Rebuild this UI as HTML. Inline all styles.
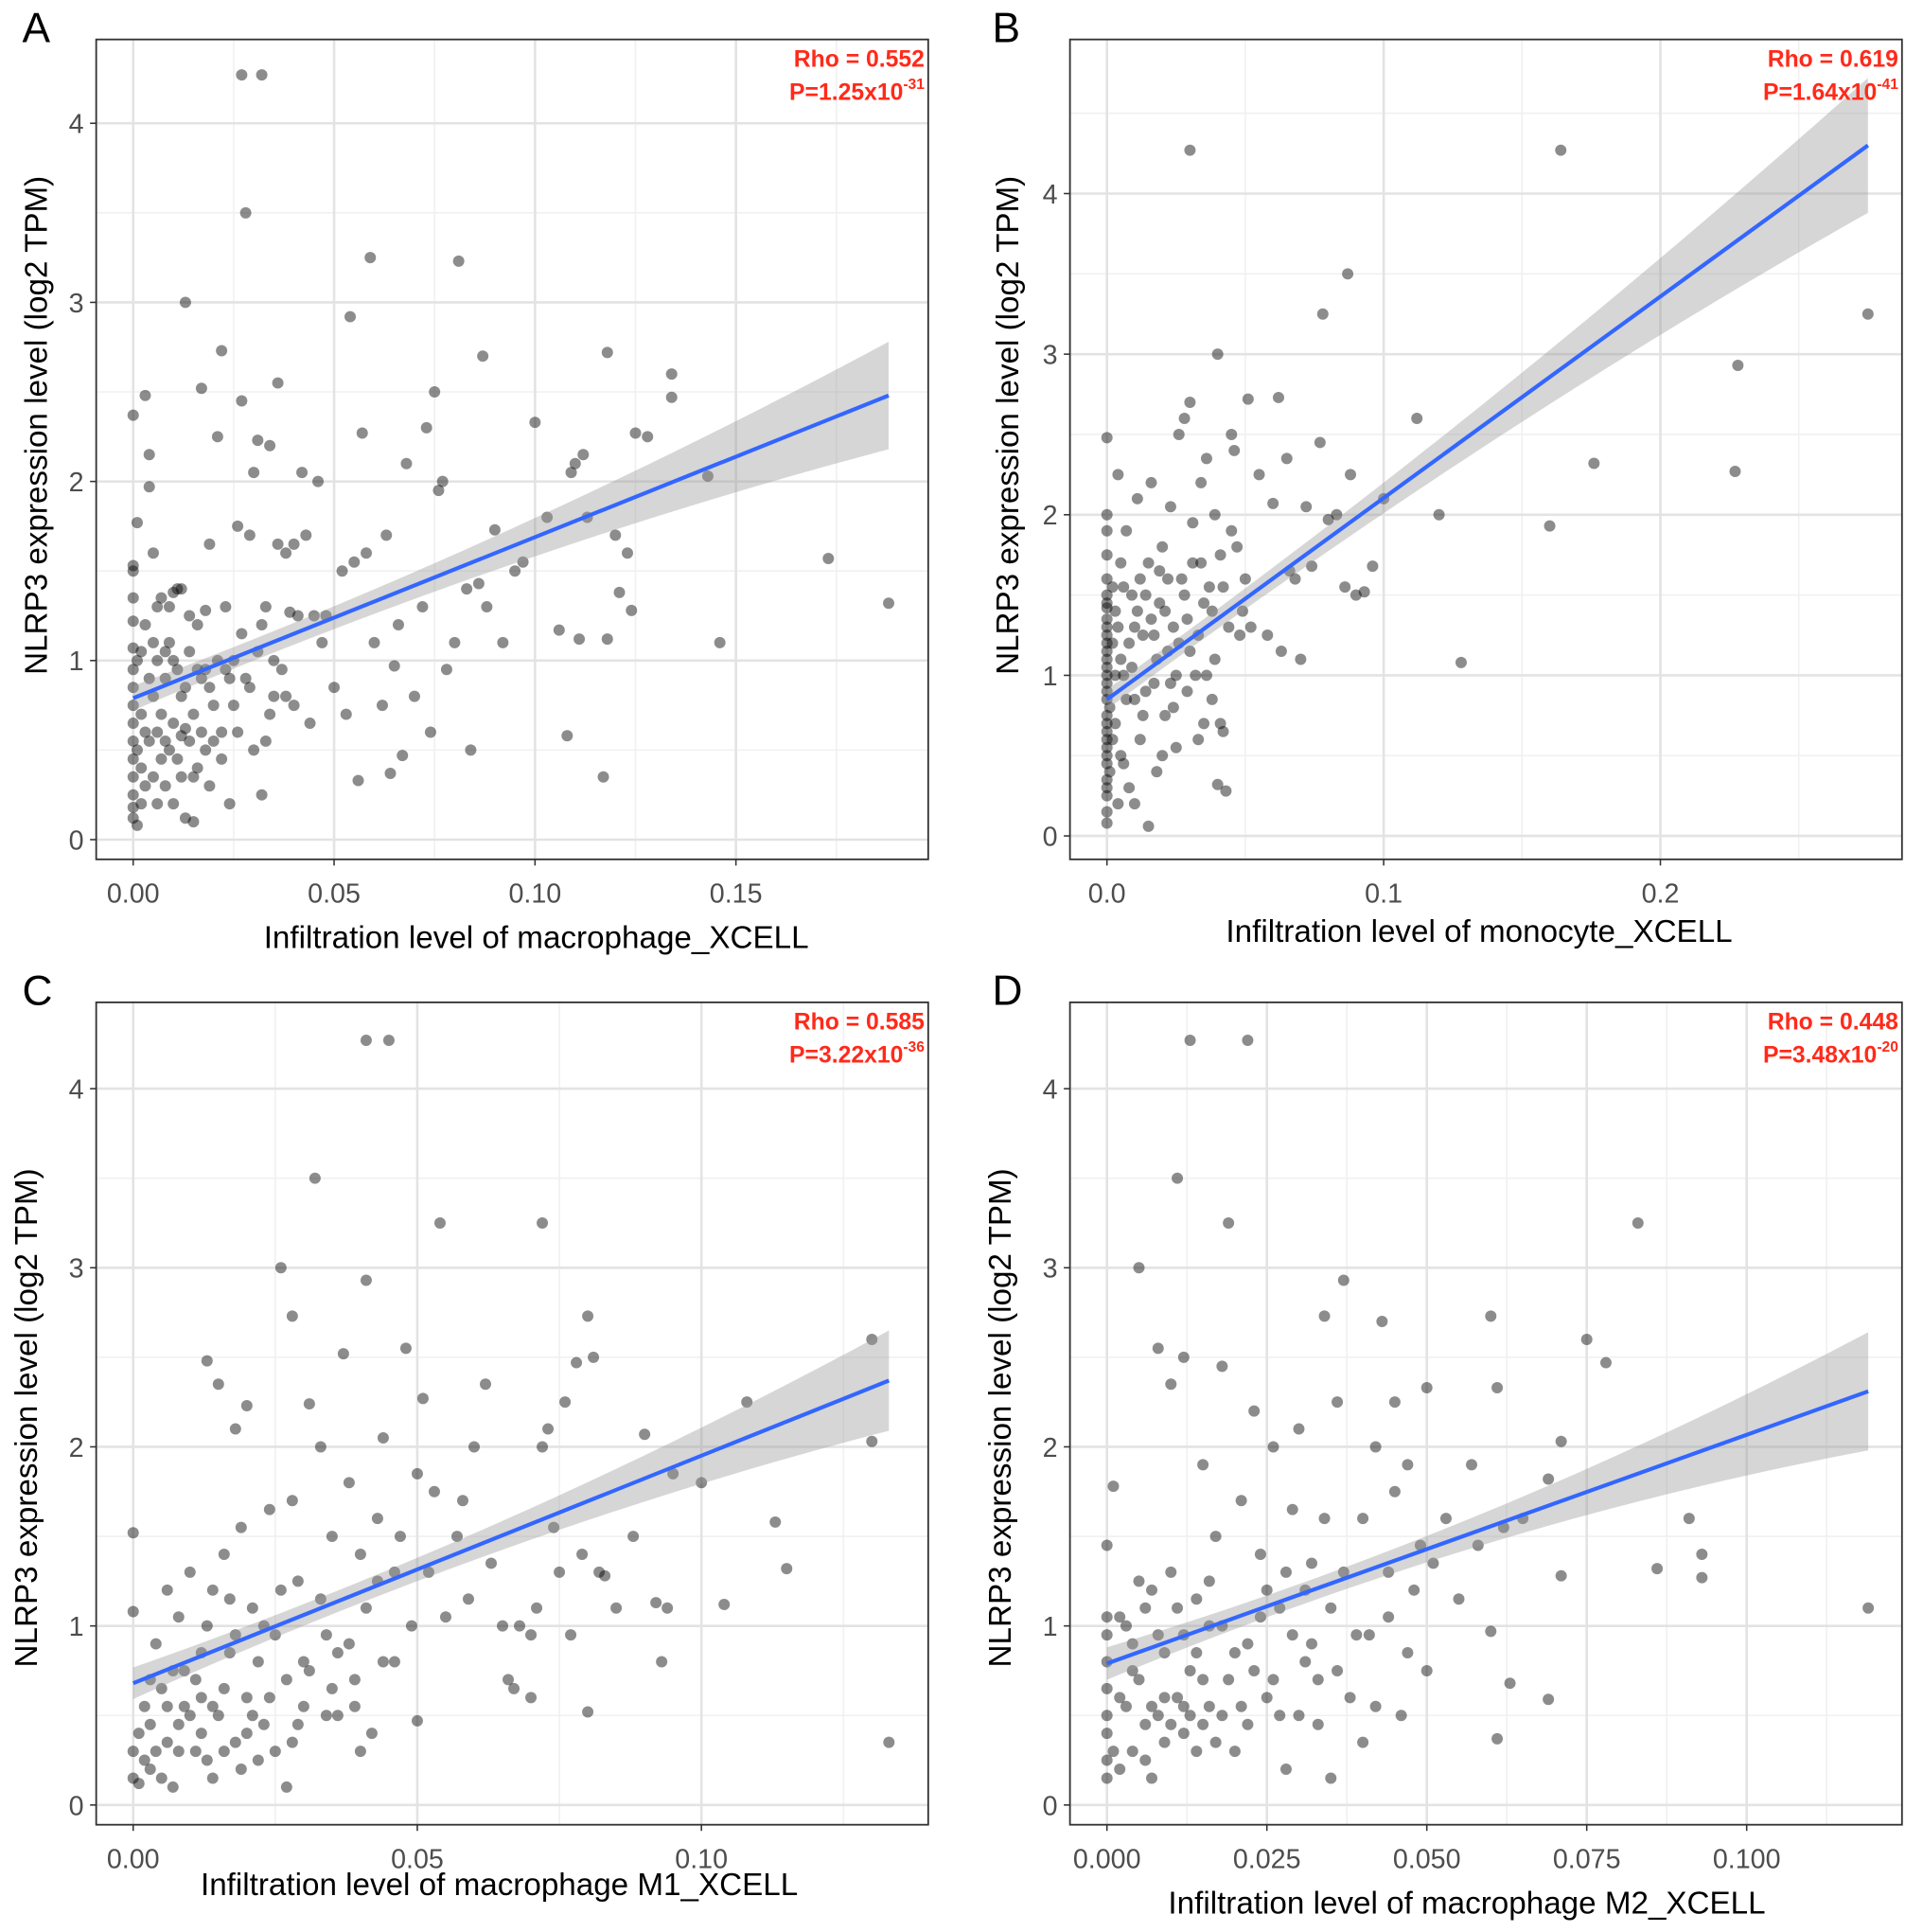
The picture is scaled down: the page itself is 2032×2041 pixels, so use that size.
<!DOCTYPE html>
<html><head><meta charset="utf-8"><style>
html,body{margin:0;padding:0;background:#fff}
svg{display:block;font-family:"Liberation Sans",Arial,sans-serif}
</style></head><body>
<svg id="fig" width="2032" height="2041" viewBox="0 0 1560 1567" xmlns="http://www.w3.org/2000/svg"></svg>
<script>
// ---- data ----
const ptsA = [[0,2.37],[0.001,1.77],[0.003,2.48],[0.004,1.97],[0.005,1.6],[0.004,2.15],[0,1.53],[0,1.5],[0,1.35],[0,1.22],[0,1.07],[0.002,1.05],[0,0.95],[0,0.85],[0,0.75],[0,0.65],[0,0.55],[0,0.45],[0,0.35],[0,0.25],[0,0.18],[0,0.12],[0.001,0.08],[0.003,0.3],[0.003,0.6],[0.005,0.8],[0.005,1.1],[0.006,0.2],[0.007,0.45],[0.008,0.9],[0.009,1.3],[0.01,0.65],[0.011,1.4],[0.012,1.4],[0.012,0.35],[0.013,0.12],[0.013,3.0],[0.014,0.55],[0.015,0.1],[0.016,1.2],[0.017,0.9],[0.017,2.52],[0.018,0.5],[0.019,1.65],[0.02,0.75],[0.021,2.25],[0.022,0.45],[0.022,2.73],[0.023,1.3],[0.024,0.2],[0.025,1.0],[0.026,1.75],[0.027,2.45],[0.027,4.27],[0.028,3.5],[0.028,0.9],[0.029,1.7],[0.03,2.05],[0.031,2.23],[0.032,4.27],[0.032,1.2],[0.032,0.25],[0.033,0.55],[0.034,2.2],[0.035,0.8],[0.036,2.55],[0.036,1.65],[0.038,1.6],[0.04,0.75],[0.041,1.25],[0.042,2.05],[0.043,1.7],[0.045,1.25],[0.046,2.0],[0.047,1.1],[0.048,1.25],[0.05,0.85],[0.052,1.5],[0.053,0.7],[0.054,2.92],[0.055,1.55],[0.056,0.33],[0.057,2.27],[0.058,1.6],[0.059,3.25],[0.06,1.1],[0.062,0.75],[0.063,1.7],[0.064,0.37],[0.065,0.97],[0.066,1.2],[0.067,0.47],[0.068,2.1],[0.07,0.8],[0.072,1.3],[0.073,2.3],[0.074,0.6],[0.075,2.5],[0.076,1.95],[0.077,2.0],[0.078,0.95],[0.08,1.1],[0.081,3.23],[0.083,1.4],[0.084,0.5],[0.086,1.43],[0.087,2.7],[0.088,1.3],[0.09,1.73],[0.092,1.1],[0.095,1.5],[0.097,1.55],[0.1,2.33],[0.103,1.8],[0.106,1.17],[0.108,0.58],[0.109,2.05],[0.11,2.1],[0.111,1.12],[0.112,2.15],[0.113,1.8],[0.117,0.35],[0.118,2.72],[0.118,1.12],[0.12,1.7],[0.121,1.38],[0.123,1.6],[0.124,1.28],[0.125,2.27],[0.128,2.25],[0.134,2.47],[0.134,2.6],[0.143,2.03],[0.146,1.1],[0.173,1.57],[0.188,1.32],[0.002,0.4],[0.004,0.9],[0.006,1.3],[0.008,0.3],[0.01,1.0],[0.012,0.8],[0.014,1.05],[0.016,0.4],[0.018,0.95],[0.02,0.55],[0.008,1.05],[0.006,0.6],[0.01,0.2],[0.015,0.7],[0.002,0.7],[0.003,1.2],[0.007,1.35],[0.009,0.5],[0.011,0.95],[0.013,0.62],[0.019,0.3],[0.024,0.9],[0.026,0.6],[0.03,0.5],[0.034,0.7],[0.037,0.95],[0.001,0.5],[0.001,1.0],[0.002,0.2],[0.004,0.55],[0.005,0.35],[0.006,1.0],[0.007,0.7],[0.008,0.55],[0.009,1.1],[0.01,1.38],[0.011,0.45],[0.012,0.58],[0.013,0.85],[0.014,1.25],[0.015,0.35],[0.016,0.95],[0.017,0.6],[0.018,1.28],[0.019,0.85],[0.021,1.0],[0.022,0.6],[0.023,0.95],[0.025,0.75],[0.027,1.15],[0.029,0.85],[0.031,1.05],[0.033,1.3],[0.035,1.0],[0.038,0.8],[0.039,1.27],[0.044,0.65],[0.04,1.65]];
const ptsB = [[0,2.48],[0,2.0],[0,1.9],[0,1.75],[0,1.6],[0,1.5],[0,1.42],[0,1.35],[0,1.25],[0,1.15],[0,1.05],[0,0.95],[0,0.85],[0,0.75],[0,0.65],[0,0.55],[0,0.45],[0,0.35],[0,0.25],[0,0.15],[0,0.08],[0.002,1.2],[0.003,0.7],[0.003,1.4],[0.004,2.25],[0.005,0.5],[0.006,1.0],[0.007,1.9],[0.008,0.3],[0.009,1.5],[0.01,0.85],[0.011,2.1],[0.012,0.6],[0.013,1.25],[0.015,0.06],[0.015,1.7],[0.016,2.2],[0.017,0.95],[0.018,0.4],[0.019,1.45],[0.02,1.8],[0.021,0.75],[0.022,1.15],[0.023,2.05],[0.024,1.3],[0.025,0.55],[0.026,2.5],[0.027,1.6],[0.028,2.6],[0.029,0.9],[0.03,4.27],[0.03,2.7],[0.031,1.95],[0.032,1.0],[0.033,1.25],[0.034,2.2],[0.035,0.7],[0.036,2.35],[0.037,1.55],[0.038,0.85],[0.039,2.0],[0.04,3.0],[0.04,0.32],[0.041,1.75],[0.042,0.65],[0.043,0.28],[0.044,1.3],[0.045,2.5],[0.046,2.4],[0.047,1.8],[0.048,1.25],[0.05,1.6],[0.051,2.72],[0.052,1.3],[0.055,2.25],[0.058,1.25],[0.06,2.07],[0.062,2.73],[0.063,1.15],[0.065,2.35],[0.066,1.65],[0.068,1.6],[0.07,1.1],[0.072,2.05],[0.074,1.68],[0.077,2.45],[0.078,3.25],[0.08,1.97],[0.083,2.0],[0.086,1.55],[0.087,3.5],[0.088,2.25],[0.09,1.5],[0.093,1.52],[0.096,1.68],[0.1,2.1],[0.112,2.6],[0.12,2.0],[0.128,1.08],[0.16,1.93],[0.164,4.27],[0.176,2.32],[0.227,2.27],[0.228,2.93],[0.275,3.25],[0.005,1.7],[0.01,1.3],[0.012,1.6],[0.014,0.9],[0.018,1.1],[0.02,0.5],[0.022,1.6],[0.025,1.0],[0.028,1.5],[0.03,1.15],[0.033,0.6],[0.036,1.0],[0.038,1.4],[0.041,0.7],[0.006,0.45],[0.008,1.2],[0.01,0.2],[0.016,1.35],[0.024,0.8],[0.034,1.7],[0,1.3],[0,1.1],[0,0.9],[0,0.7],[0,0.5],[0,0.3],[0,1.45],[0,1.2],[0,1.0],[0,0.6],[0.001,0.4],[0.001,0.8],[0.002,1.55],[0.002,0.6],[0.003,1.0],[0.004,1.3],[0.004,0.2],[0.005,1.1],[0.006,1.55],[0.007,0.85],[0.009,1.05],[0.011,1.4],[0.013,0.75],[0.014,1.5],[0.017,1.25],[0.019,1.65],[0.021,1.4],[0.023,0.95],[0.026,1.2],[0.029,1.35],[0.031,1.7],[0.035,1.45],[0.039,1.1],[0.042,1.55],[0.045,1.9],[0.049,1.4]];
const ptsC = [[0,1.52],[0,1.08],[0,0.3],[0,0.15],[0.001,0.4],[0.002,0.55],[0.003,0.2],[0.004,0.9],[0.005,0.65],[0.006,1.2],[0.007,0.1],[0.008,0.45],[0.009,0.75],[0.01,1.3],[0.011,0.3],[0.012,0.6],[0.013,1.0],[0.014,0.15],[0.015,0.5],[0.016,1.4],[0.017,0.85],[0.018,0.35],[0.019,1.55],[0.02,0.6],[0.021,1.1],[0.022,0.25],[0.013,2.48],[0.015,2.35],[0.018,2.1],[0.02,2.23],[0.023,0.45],[0.024,1.65],[0.025,0.95],[0.026,3.0],[0.027,0.1],[0.028,2.73],[0.028,1.7],[0.029,1.25],[0.03,0.55],[0.031,2.24],[0.032,3.5],[0.033,2.0],[0.034,0.95],[0.035,1.5],[0.036,0.5],[0.037,2.52],[0.038,1.8],[0.039,0.7],[0.04,1.4],[0.041,4.27],[0.041,2.93],[0.042,0.4],[0.043,1.6],[0.044,2.05],[0.045,4.27],[0.046,0.8],[0.047,1.5],[0.048,2.55],[0.049,1.0],[0.05,1.85],[0.05,0.47],[0.051,2.27],[0.052,1.3],[0.053,1.75],[0.054,3.25],[0.055,1.05],[0.057,1.5],[0.058,1.7],[0.059,1.15],[0.06,2.0],[0.062,2.35],[0.063,1.35],[0.065,1.0],[0.067,0.65],[0.068,1.0],[0.07,0.95],[0.071,1.1],[0.072,3.25],[0.072,2.0],[0.073,2.1],[0.074,1.55],[0.075,1.3],[0.076,2.25],[0.077,0.95],[0.078,2.47],[0.079,1.4],[0.08,2.73],[0.081,2.5],[0.082,1.3],[0.083,1.28],[0.085,1.1],[0.08,0.52],[0.088,1.5],[0.09,2.07],[0.092,1.13],[0.093,0.8],[0.094,1.1],[0.095,1.85],[0.1,1.8],[0.104,1.12],[0.108,2.25],[0.113,1.58],[0.115,1.32],[0.13,2.6],[0.13,2.03],[0.133,0.35],[0.07,0.6],[0.066,0.7],[0.003,0.7],[0.006,0.35],[0.008,1.05],[0.01,0.5],[0.012,0.85],[0.014,1.2],[0.016,0.65],[0.018,0.95],[0.02,0.4],[0.022,0.8],[0.024,0.6],[0.026,1.2],[0.028,0.35],[0.03,0.8],[0.033,1.15],[0.035,0.65],[0.038,0.9],[0.04,0.3],[0.043,1.25],[0.001,0.12],[0.002,0.25],[0.003,0.45],[0.004,0.3],[0.005,0.15],[0.006,0.55],[0.007,0.75],[0.008,0.3],[0.009,0.55],[0.011,0.7],[0.012,0.4],[0.013,0.25],[0.014,0.55],[0.016,0.3],[0.017,1.15],[0.019,0.2],[0.021,0.5],[0.023,1.0],[0.025,0.3],[0.027,0.7],[0.029,0.45],[0.031,0.75],[0.034,0.5],[0.036,0.85],[0.039,0.55],[0.041,1.1],[0.044,0.8],[0.046,1.3]];
const ptsD = [[0,1.45],[0,1.05],[0,0.8],[0,0.5],[0,0.25],[0.001,1.78],[0.002,0.6],[0.003,1.0],[0.004,0.3],[0.005,0.7],[0.005,3.0],[0.006,1.1],[0.007,0.15],[0.008,0.5],[0.008,2.55],[0.009,0.85],[0.01,1.3],[0.01,2.35],[0.011,3.5],[0.012,0.4],[0.012,2.5],[0.013,0.75],[0.013,4.27],[0.014,1.15],[0.015,1.9],[0.016,0.55],[0.017,1.5],[0.018,2.45],[0.018,1.0],[0.019,3.25],[0.02,0.3],[0.021,1.7],[0.022,0.9],[0.022,4.27],[0.023,2.2],[0.024,1.4],[0.025,0.6],[0.026,2.0],[0.027,1.1],[0.028,0.2],[0.029,1.65],[0.03,2.1],[0.031,0.8],[0.032,1.35],[0.033,0.45],[0.034,2.73],[0.035,1.1],[0.036,2.25],[0.037,2.93],[0.038,0.6],[0.04,1.6],[0.041,0.95],[0.042,2.0],[0.043,2.7],[0.044,1.3],[0.045,2.25],[0.046,0.5],[0.047,1.9],[0.048,1.2],[0.05,0.75],[0.05,2.33],[0.051,1.35],[0.053,1.6],[0.055,1.15],[0.057,1.9],[0.058,1.45],[0.06,2.73],[0.06,0.97],[0.061,2.33],[0.061,0.37],[0.062,1.55],[0.063,0.68],[0.065,1.6],[0.069,1.82],[0.069,0.59],[0.071,1.28],[0.071,2.03],[0.075,2.6],[0.078,2.47],[0.083,3.25],[0.086,1.32],[0.091,1.6],[0.093,1.4],[0.093,1.27],[0.119,1.1],[0.04,0.35],[0.035,0.15],[0.045,1.75],[0.002,0.2],[0.004,0.9],[0.006,0.45],[0.007,1.2],[0.009,0.35],[0.011,0.6],[0.012,0.95],[0.014,0.3],[0.015,0.7],[0.016,1.25],[0.018,0.5],[0.02,0.85],[0.022,0.45],[0.024,1.05],[0.026,0.7],[0.028,1.3],[0.03,0.5],[0.032,0.9],[0.034,1.6],[0.036,0.75],[0,0.15],[0,0.4],[0,0.65],[0,0.95],[0.001,0.3],[0.002,1.05],[0.003,0.55],[0.004,0.75],[0.005,1.25],[0.006,0.25],[0.007,0.55],[0.008,0.95],[0.009,0.6],[0.01,0.45],[0.011,1.1],[0.012,0.55],[0.013,0.5],[0.014,0.85],[0.015,0.45],[0.016,1.0],[0.017,0.35],[0.019,0.7],[0.021,0.55],[0.023,0.75],[0.025,1.2],[0.027,0.5],[0.029,0.95],[0.031,1.2],[0.033,0.7],[0.037,1.3],[0.039,0.95],[0.042,0.55],[0.044,1.05],[0.047,0.85],[0.049,1.45]];
const xTicksA = [0, 0.05, 0.10, 0.15], xLabelsA = ["0.00","0.05","0.10","0.15"];
const xTicksB = [0, 0.1, 0.2], xLabelsB = ["0.0","0.1","0.2"];
const xTicksC = [0, 0.05, 0.10], xLabelsC = ["0.00","0.05","0.10"];
const xTicksD = [0, 0.025, 0.05, 0.075, 0.1], xLabelsD = ["0.000","0.025","0.050","0.075","0.100"];
const yTicks = [0,1,2,3,4];
const fitA = [0.79, 2.48, 0.188], fitB = [0.85, 4.3, 0.275], fitC = [0.68, 2.37, 0.133], fitD = [0.79, 2.31, 0.119];
const rhoA = "0.552", pA = ["1.25","-31"];
const rhoB = "0.619", pB = ["1.64","-41"];
const rhoC = "0.585", pC = ["3.22","-36"];
const rhoD = "0.448", pD = ["3.48","-20"];

const NS = "http://www.w3.org/2000/svg";
const svg = document.getElementById('fig');
function mk(tag, attrs, parent){ const e=document.createElementNS(NS,tag); for(const k in attrs) e.setAttribute(k,attrs[k]); (parent||svg).appendChild(e); return e; }

function panel(cfg){
  const g = mk('g',{});
  
  
  const sx = v => cfg.x0px + (v - 0) * (cfg.x1px - cfg.x0px) / cfg.x1v;
  const sy = v => cfg.y0px - v * (cfg.y0px - cfg.y4px) / 4;
  const L=cfg.L,R=cfg.R,T=cfg.T,B=cfg.B;
  mk('rect',{x:L,y:T,width:R-L,height:B-T,fill:'#fff'},g);
  const step = cfg.xt[1]-cfg.xt[0];
  for(let v=-step/2; sx(v)<R; v+=step){ if(sx(v)>L){ const m=mk('line',{x1:sx(v),x2:sx(v),y1:T,y2:B,stroke:'#f0f0f0','stroke-width':1.2},g);   } }
  for(let v=-0.5; sy(v)>T; v+=1){ if(sy(v)<B){ const m=mk('line',{x1:L,x2:R,y1:sy(v),y2:sy(v),stroke:'#f0f0f0','stroke-width':1.2},g);   } }
  cfg.xt.forEach((v,i)=>{
    const l=mk('line',{x1:sx(v),x2:sx(v),y1:T,y2:B,stroke:'#e3e3e3','stroke-width':2},g);
     
    mk('line',{x1:sx(v),x2:sx(v),y1:B,y2:B+5,stroke:'#333','stroke-width':1.2},g);
    const t=mk('text',{x:sx(v),y:B+35,'text-anchor':'middle','font-size':22,fill:'#4d4d4d'},g); t.textContent=cfg.xl[i];
     
  });
  yTicks.forEach(v=>{
    const l=mk('line',{x1:L,x2:R,y1:sy(v),y2:sy(v),stroke:'#e3e3e3','stroke-width':2},g);
     
    mk('line',{x1:L-5,x2:L,y1:sy(v),y2:sy(v),stroke:'#333','stroke-width':1.2},g);
    const t=mk('text',{x:L-10,y:sy(v)+8,'text-anchor':'end','font-size':22,fill:'#4d4d4d'},g); t.textContent=v;
     
  });
  cfg.pts.forEach(p=>{
    const c=mk('circle',{cx:sx(p[0]),cy:sy(p[1]),r:4.6,fill:'#000','fill-opacity':0.45},g);
     
  });
  const [a,bEnd,xe]=cfg.fit; const slope=(bEnd-a)/xe; const xm=cfg.xm, h0=cfg.h0, h1=cfg.h1;
  const hw = x => h0 + h1*Math.pow((x-xm)/(xe-xm),2);
  let up=[],lo=[];
  for(let i=0;i<=60;i++){ const x=xe*i/60, y=a+slope*x; up.push(sx(x)+','+sy(y+hw(x))); lo.unshift(sx(x)+','+sy(y-hw(x))); }
  const band=mk('polygon',{points:up.concat(lo).join(' '),fill:'#999','fill-opacity':0.4},g);
   
  const fl=mk('line',{x1:sx(0),y1:sy(a),x2:sx(xe),y2:sy(bEnd),stroke:'#3366ff','stroke-width':3.2},g);
   
  mk('rect',{x:L,y:T,width:R-L,height:B-T,fill:'none',stroke:'#333','stroke-width':1.4},g);
  const r=mk('text',{x:R-3,y:T+22,'text-anchor':'end','font-size':19,'font-weight':'bold',fill:'#ff2a1a'},g); r.textContent='Rho = '+cfg.rho;
   
  const pt=mk('text',{x:R-3,y:T+49,'text-anchor':'end','font-size':19,'font-weight':'bold',fill:'#ff2a1a'},g);
   
  const s1=mk('tspan',{},pt); s1.textContent='P='+cfg.p[0]+'x10';
  const s2=mk('tspan',{'font-size':12,dy:-9},pt); s2.textContent=cfg.p[1];
  const xt=mk('text',{x:cfg.xtx,y:cfg.xty,'text-anchor':'middle','font-size':25.5,fill:'#000'},g); xt.textContent=cfg.xtitle;
   
  const yt=mk('text',{x:0,y:0,'text-anchor':'middle','font-size':25.5,fill:'#000',transform:`translate(${cfg.ytx},${cfg.yty}) rotate(-90)`},g); yt.textContent='NLRP3 expression level (log2 TPM)';
   
  const lt=mk('text',{x:cfg.lx,y:cfg.ly,'font-size':34,fill:'#000'},g); lt.textContent=cfg.letter;
   
}

panel({letter:'A',L:78,R:753,T:32,B:697,x0px:108,x1px:597,x1v:0.15,y0px:681,y4px:100,xt:xTicksA,xl:xLabelsA,pts:ptsA,fit:fitA,xm:0.03,h0:0.06,h1:0.24,rho:rhoA,p:pA,xtitle:'Infiltration level of macrophage_XCELL',xtx:435,xty:769,ytx:38,yty:345,lx:18,ly:34});
panel({letter:'B',L:868,R:1543,T:32,B:697,x0px:898,x1px:1347,x1v:0.2,y0px:678,y4px:157,xt:xTicksB,xl:xLabelsB,pts:ptsB,fit:fitB,xm:0.02,h0:0.06,h1:0.36,rho:rhoB,p:pB,xtitle:'Infiltration level of monocyte_XCELL',xtx:1200,xty:764,ytx:826,yty:345,lx:805,ly:34});
panel({letter:'C',L:78,R:753,T:813,B:1480,x0px:108,x1px:569,x1v:0.1,y0px:1464,y4px:883,xt:xTicksC,xl:xLabelsC,pts:ptsC,fit:fitC,xm:0.035,h0:0.06,h1:0.22,rho:rhoC,p:pC,xtitle:'Infiltration level of macrophage M1_XCELL',xtx:405,xty:1537,ytx:30,yty:1150,lx:18,ly:815});
panel({letter:'D',L:868,R:1543,T:813,B:1480,x0px:898,x1px:1417,x1v:0.1,y0px:1464,y4px:883,xt:xTicksD,xl:xLabelsD,pts:ptsD,fit:fitD,xm:0.03,h0:0.06,h1:0.27,rho:rhoD,p:pD,xtitle:'Infiltration level of macrophage M2_XCELL',xtx:1190,xty:1552,ytx:820,yty:1150,lx:805,ly:815});
</script>
</body></html>
